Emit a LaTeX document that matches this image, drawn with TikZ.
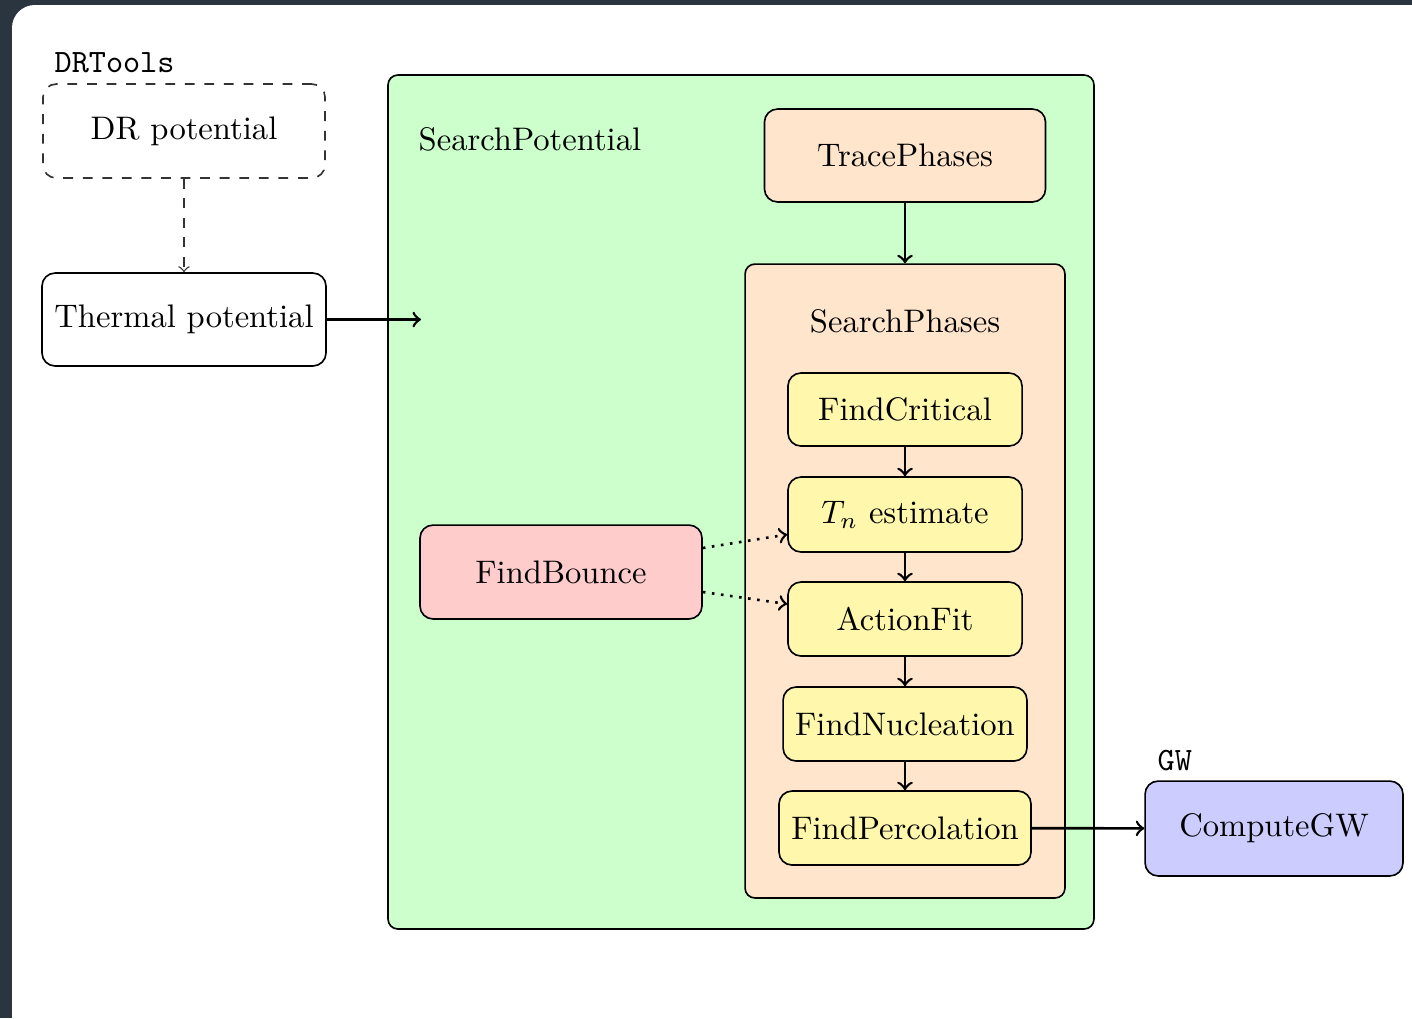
\documentclass[tikz,border=0pt]{standalone}
\usetikzlibrary{calc}
\definecolor{frame}{RGB}{42,53,63}
\definecolor{gbox}{RGB}{204,255,204}
\definecolor{pbox}{RGB}{255,229,204}
\definecolor{ybox}{RGB}{255,248,172}
\definecolor{rbox}{RGB}{255,204,204}
\definecolor{bbox}{RGB}{204,204,255}
\tikzset{
  box/.style={draw, line width=0.5pt, rounded corners=4pt, align=center, inner sep=0pt},
  bigbox/.style={draw, line width=0.5pt, rounded corners=3pt, inner sep=0pt},
  lab/.style={inner sep=0pt},
  conn/.style={->, thick},
}
\begin{document}
\begin{tikzpicture}[x=0.3067pt, y=-0.3067pt]
\useasboundingbox (0,0) rectangle (1412,1018);
\fill[frame] (0,0) rectangle (1412,1018);
\fill[white, rounded corners=7pt] (12,5) rectangle (1450,1060);

% outer group
\node[bigbox, fill=gbox, minimum width=216.5pt, minimum height=261.9pt] (sp) at (741,502) {};
\node[lab, anchor=base west] (splab) at (418,150) {SearchPotential};
\node[bigbox, fill=pbox, minimum width=98.1pt, minimum height=194.4pt] (sph) at (905,581) {};
\node[lab, anchor=base] (sphlab) at (905,332) {SearchPhases};

% left
\node[lab, anchor=base west] (drt) at (54,72) {\ttfamily DRTools};
\node[box, dashed, draw=black!80, minimum width=86.5pt, minimum height=28.8pt] (dr) at (184,131) {DR potential};
\node[box, minimum width=87.1pt, minimum height=28.5pt] (th) at (184,319.5) {Thermal potential};
\coordinate (thend) at (421,319.5);

% inner nodes
\node[box, fill=pbox, minimum width=86.2pt, minimum height=28.5pt] (tp) at (905,155.5) {TracePhases};
\node[box, fill=ybox, minimum width=71.8pt, minimum height=22.4pt] (fc) at (905,409.5) {FindCritical};
\node[box, fill=ybox, minimum width=71.8pt, minimum height=23pt] (tn) at (905,514.5) {$T_n$ estimate};
\node[box, fill=ybox, minimum width=71.8pt, minimum height=22.7pt] (af) at (905,619) {ActionFit};
\node[box, fill=ybox, minimum width=74.8pt, minimum height=22.7pt] (fn) at (905,724) {FindNucleation};
\node[box, fill=ybox, minimum width=77.3pt, minimum height=22.7pt] (fp) at (905,828) {FindPercolation};
\node[box, fill=rbox, minimum width=86.5pt, minimum height=28.8pt] (fb) at (561,572) {FindBounce};

% GW
\node[lab, anchor=base west] (gwl) at (1157,770) {\ttfamily GW};
\node[box, fill=bbox, minimum width=79.1pt, minimum height=29.1pt] (cg) at (1274,828.5) {ComputeGW};

% connectors
\draw[->, dashed, draw=black!80] (dr) -- (th);
\draw[conn] (th) -- (thend);
\draw[conn] (tp) -- (sph.north);
\draw[conn] (fc) -- (tn);
\draw[conn] (tn) -- (af);
\draw[conn] (af) -- (fn);
\draw[conn] (fn) -- (fp);
\draw[conn] (fp) -- (cg);
\draw[->, thick, dotted] ($(fb.east)+(0,-24)$) -- ($(tn.west)+(0,20)$);
\draw[->, thick, dotted] ($(fb.east)+(0,20)$) -- ($(af.west)+(0,-15)$);
\end{tikzpicture}
\end{document}
